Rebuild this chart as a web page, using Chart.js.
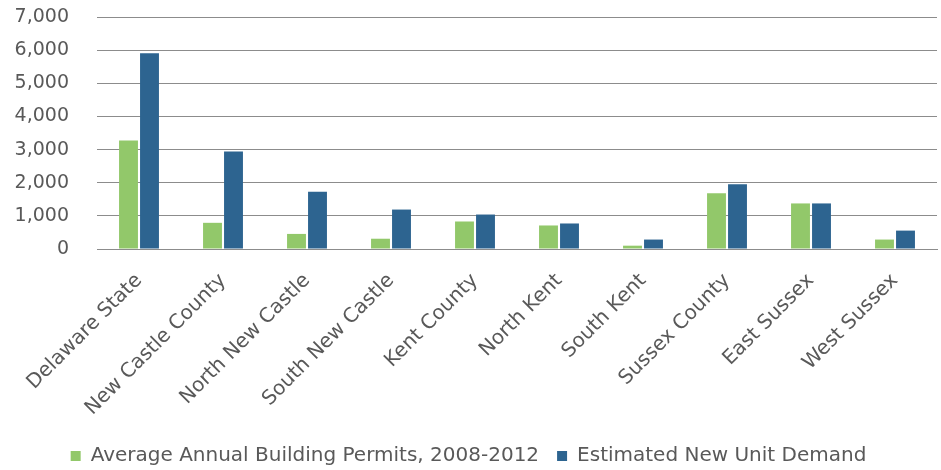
<!DOCTYPE html>
<html lang="en">

<head>
    <meta charset="UTF-8" />
    <title>Building permits vs. new unit demand</title>
    <script src="https://cdn.jsdelivr.net/npm/chart.js"></script>
    <style>
        html, body {
            margin: 0;
            padding: 0;
            background: #ffffff;
        }

        #wrap {
            width: 941px;
            height: 470px;
        }
    </style>
</head>

<body>

    <div id="wrap">
        <canvas id="demandChart" width="941" height="470"></canvas>
    </div>

    <script>
        const areas = [
            'Delaware State', 'New Castle County', 'North New Castle', 'South New Castle',
            'Kent County', 'North Kent', 'South Kent', 'Sussex County', 'East Sussex', 'West Sussex'
        ];
        const permits = [3270, 790, 455, 310, 830, 710, 100, 1680, 1375, 285];
        const demand = [5910, 2940, 1730, 1190, 1040, 770, 285, 1950, 1375, 555];
        const yTicks = [0, 1000, 2000, 3000, 4000, 5000, 6000, 7000];

        const FONT = "'DejaVu Sans', sans-serif";
        const TEXT = '#595959';

        const ctx = document.getElementById('demandChart').getContext('2d');

        new Chart(ctx, {
            type: 'bar',
            data: {
                labels: areas,
                datasets: [{
                    label: 'Average Annual Building Permits, 2008-2012',
                    data: permits,
                    backgroundColor: '#92c86a',
                    categoryPercentage: 0.5,
                    barPercentage: 0.9
                }, {
                    label: 'Estimated New Unit Demand',
                    data: demand,
                    backgroundColor: '#2d6490',
                    categoryPercentage: 0.5,
                    barPercentage: 0.9
                }]
            },
            options: {
                responsive: false,
                animation: false,
                layout: {
                    padding: { top: 17, right: 4, left: 0, bottom: -6 }
                },
                plugins: {
                    legend: {
                        position: 'bottom',
                        labels: {
                            color: TEXT,
                            font: { family: FONT, size: 20 },
                            boxWidth: 10,
                            boxHeight: 10,
                            padding: 18
                        }
                    },
                    tooltip: { enabled: false }
                },
                scales: {
                    x: {
                        grid: { display: false },
                        border: { color: '#8c8c8c', width: 1 },
                        ticks: {
                            color: TEXT,
                            font: { family: FONT, size: 20 },
                            minRotation: 45,
                            maxRotation: 45,
                            padding: 12
                        },
                        afterFit: scale => {
                            scale.height = 179;
                            scale.paddingTop = 0;
                        }
                    },
                    y: {
                        min: 0,
                        max: 7000,
                        afterBuildTicks: scale => {
                            scale.ticks = yTicks.map(v => ({ value: v }));
                        },
                        grid: { color: '#8c8c8c', lineWidth: 1, drawTicks: false },
                        border: { display: false },
                        ticks: {
                            color: TEXT,
                            font: { family: FONT, size: 19 },
                            padding: 28,
                            callback: v => v.toLocaleString('en-US')
                        },
                        afterFit: scale => {
                            scale.width = 97;
                            scale.paddingTop = 0;
                            scale.paddingBottom = 0;
                        }
                    }
                }
            }
        });
    </script>
</body>

</html>
